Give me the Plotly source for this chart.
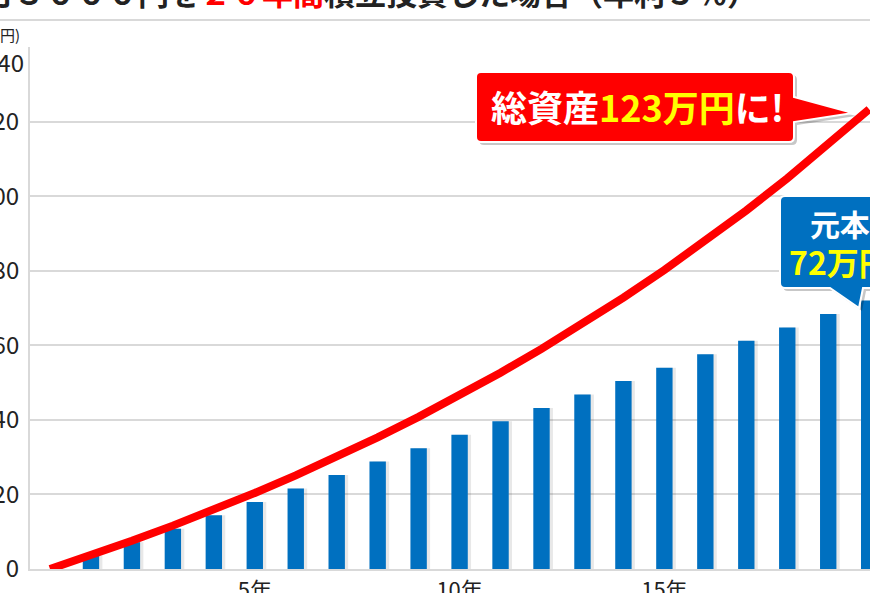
import plotly.graph_objects as go

# ---------------- data ----------------
line_years = [0, 1, 2, 3, 4, 5, 6, 7, 8, 9, 10, 11, 12, 13, 14, 15, 16, 17, 18, 19, 20]
total_assets = [0, 3.68, 7.56, 11.63, 15.90, 20.40, 25.13, 30.10, 35.32, 40.81, 46.58,
                52.65, 59.03, 65.73, 72.78, 80.19, 87.97, 96.16, 104.76, 113.80, 123.31]
bar_years = [1, 2, 3, 4, 5, 6, 7, 8, 9, 10, 11, 12, 13, 14, 15, 16, 17, 18, 19, 20]
principal = [3.6, 7.2, 10.8, 14.4, 18.0, 21.6, 25.2, 28.8, 32.4, 36.0,
             39.6, 43.2, 46.8, 50.4, 54.0, 57.6, 61.2, 64.8, 68.4, 72.0]
y_tick_vals = [0, 20, 40, 60, 80, 100, 120, 140]
y_tick_text = ["0", "20", "40", "60", "80", "100", "120", "140"]
x_tick_vals = [5, 10, 15, 20]
x_tick_text = ["5年", "10年", "15年", "20年"]
title_parts = ["月３０００円を", "２０年間", "積立投資した場合（年利５％）"]
unit_label = "(万円)"
red_callout = ["総資産", "123万円", "に!"]
blue_callout = ["元本", "72万円"]

# ---------------- layout helpers ----------------
W, H = 870, 593
ML, MR, MT, MB = 30, 0, 47, 24
PW, PH = W - ML - MR, H - MT - MB
FONT = "Noto Sans CJK JP"
TICK_FONT = dict(family=FONT, size=24, color="#222222")


def px(x):
    return (x - ML) / PW


def py(y):
    return (H - MB - y) / PH


def callout_path(x0, y0, x1, y1, tail, r=5, dx=0, dy=0):
    """Rounded box with tail; tail = (side, [(x,y),...]) in pixel coords."""
    side, pts = tail
    P = lambda x, y: f"{px(x + dx):.5f},{py(y + dy):.5f}"
    d = [f"M{P(x0 + r, y0)}"]
    d.append(f"L{P(x1 - r, y0)}")
    d.append(f"Q{P(x1, y0)} {P(x1, y0 + r)}")
    if side == "right":
        for (a, b) in pts:
            d.append(f"L{P(a, b)}")
    d.append(f"L{P(x1, y1 - r)}")
    d.append(f"Q{P(x1, y1)} {P(x1 - r, y1)}")
    if side == "bottom":
        for (a, b) in pts:
            d.append(f"L{P(a, b)}")
    d.append(f"L{P(x0 + r, y1)}")
    d.append(f"Q{P(x0, y1)} {P(x0, y1 - r)}")
    d.append(f"L{P(x0, y0 + r)}")
    d.append(f"Q{P(x0, y0)} {P(x0 + r, y0)}")
    d.append("Z")
    return " ".join(d)


fig = go.Figure()

# bar shadow
fig.add_trace(go.Bar(
    x=bar_years, y=principal, width=0.4, offset=-0.12,
    marker=dict(color="rgba(0,0,0,0.09)", line=dict(width=0)),
    hoverinfo="skip", showlegend=False,
))
fig.add_trace(go.Bar(
    x=bar_years, y=principal, width=0.4, offset=-0.2,
    marker=dict(color="#0070c0", line=dict(width=0)),
    showlegend=False, name="元本",
))
fig.add_trace(go.Scatter(
    x=line_years, y=total_assets, mode="lines",
    line=dict(color="#ff0000", width=8),
    showlegend=False, name="総資産",
))

shapes = []
# line under title
shapes.append(dict(type="line", xref="paper", yref="paper",
                   x0=-1, x1=2, y0=py(20), y1=py(20),
                   line=dict(color="#d9d9d9", width=2), layer="above"))

# red callout
red_tail = ("right", [(794, 97), (853, 113), (794, 122)])
shapes.append(dict(type="path", xref="paper", yref="paper",
                   path=callout_path(476, 72, 794, 142, red_tail, dx=3, dy=3),
                   fillcolor="rgba(0,0,0,0.22)", line=dict(width=0), layer="above"))
shapes.append(dict(type="path", xref="paper", yref="paper",
                   path=callout_path(476, 72, 794, 142, red_tail),
                   fillcolor="#ff0000", line=dict(color="white", width=2), layer="above"))

# blue callout
blue_tail = ("bottom", [(863, 288), (859, 308), (830, 288)])
shapes.append(dict(type="path", xref="paper", yref="paper",
                   path=callout_path(780, 196, 900, 288, blue_tail, dx=3, dy=3),
                   fillcolor="rgba(0,0,0,0.22)", line=dict(width=0), layer="above"))
shapes.append(dict(type="path", xref="paper", yref="paper",
                   path=callout_path(780, 196, 900, 288, blue_tail),
                   fillcolor="#0070c0", line=dict(color="white", width=2), layer="above"))

annotations = []
annotations.append(dict(
    xref="paper", yref="paper", x=px(-19.5), y=py(16), xanchor="left", yanchor="bottom",
    text=f"{title_parts[0]}<span style='color:#ff0000'>{title_parts[1]}</span>{title_parts[2]}",
    showarrow=False, font=dict(family=FONT, size=31, color="#222222", weight="bold"),
))
annotations.append(dict(
    xref="paper", yref="paper", x=px(22), y=py(34), xanchor="right", yanchor="middle",
    text=unit_label, showarrow=False, font=dict(family=FONT, size=15, color="#222222"),
))
# top tick label sits just below the plot's top border
annotations.append(dict(
    xref="paper", yref="y", x=0, y=y_tick_vals[-1], xanchor="right", yanchor="top",
    xshift=-4, yshift=5, text=y_tick_text[-1], showarrow=False, font=TICK_FONT,
))
annotations.append(dict(
    xref="paper", yref="paper", x=px(637), y=py(106), xanchor="center", yanchor="middle",
    text=f"{red_callout[0]}<span style='color:#ffff00'>{red_callout[1]}</span>{red_callout[2]}",
    showarrow=False, font=dict(family=FONT, size=36, color="white", weight="bold"),
))
annotations.append(dict(
    xref="paper", yref="paper", x=px(840), y=py(243), xanchor="center", yanchor="middle",
    text=f"{blue_callout[0]}<br><span style='color:#ffff00;font-size:32px'>{blue_callout[1]}</span>",
    showarrow=False,
    font=dict(family=FONT, size=30, color="white", weight="bold"),
))

fig.update_layout(
    width=W, height=H,
    margin=dict(l=ML, r=MR, t=MT, b=MB, pad=0),
    paper_bgcolor="white", plot_bgcolor="white",
    barmode="overlay",
    shapes=shapes, annotations=annotations,
    font=dict(family=FONT),
    xaxis=dict(
        range=[-0.488, 20.02], tickmode="array", tickvals=x_tick_vals, ticktext=x_tick_text,
        showgrid=False, zeroline=False, showline=True, linecolor="#d9d9d9", linewidth=2,
        ticks="", ticklabelstandoff=1, automargin=False,
        tickfont=dict(family=FONT, size=22, color="#222222"),
    ),
    yaxis=dict(
        range=[0, 140], tickmode="array", tickvals=y_tick_vals,
        ticktext=y_tick_text[:-1] + [""],
        showgrid=True, gridcolor="#d9d9d9", gridwidth=2,
        zeroline=False, showline=True, linecolor="#d9d9d9", linewidth=2,
        ticks="", ticklabelstandoff=4, automargin=False,
        tickfont=TICK_FONT,
    ),
)

fig.write_html(
    "out.html",
    config={"displayModeBar": False},
    post_script="document.body.style.margin='0';document.body.style.overflow='hidden';",
)
